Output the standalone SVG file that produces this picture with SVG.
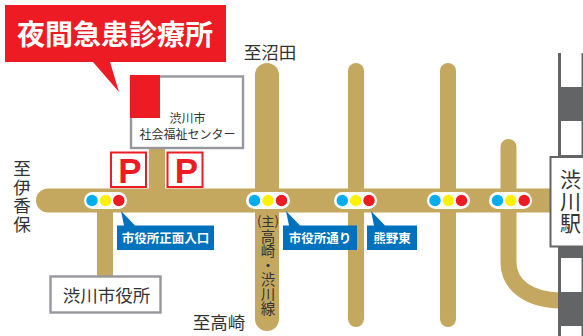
<svg xmlns="http://www.w3.org/2000/svg" width="583" height="336" viewBox="0 0 583 336">
<style>
text{font-family:"Noto Sans CJK JP","Noto Sans",sans-serif;fill:#333;text-anchor:middle}
.road{fill:none;stroke:#c5a85f;stroke-linecap:round}
.butt{stroke-linecap:butt}
.pill{fill:#fff}
.b{fill:#00aeef}.y{fill:#fff100}.r{fill:#ed1c24}
.blue{fill:#0071bc}
.bt{fill:#fff;font-size:12.500px;font-weight:700}
.box{fill:#fff;stroke:#97979c;stroke-width:2.4}
.p{fill:#fff;stroke:#ed1c24;stroke-width:2}
.pt{fill:#ed1c24;font-family:"Liberation Sans",sans-serif;font-size:35px;font-weight:700}
.lbl{font-size:17.500px}
.v{writing-mode:vertical-rl;text-anchor:start}
</style>
<g id="connectors">
<path class="road" stroke-width="24" d="M48 200.500H552"/>
<path class="road" stroke-width="24" d="M267 75V319"/>
<path class="road" stroke-width="16" d="M356 71V319"/>
<path class="road" stroke-width="16" d="M448 71V319"/>
<path class="road" stroke-width="16" d="M508.500 147V262C508.500 286 530 300 560 300.500"/>
<path class="road butt" stroke-width="16" d="M105 205V278"/>
<path class="road butt" stroke-width="16" d="M157 145V195"/>
</g>
<g id="railway">
<rect x="558" y="53" width="25" height="283" fill="#636466"/>
<rect x="561" y="53" width="20.500" height="34" fill="#fff"/>
<rect x="561" y="121" width="20.500" height="34" fill="#fff"/>
<rect x="561" y="258" width="20.500" height="34" fill="#fff"/>
<rect x="561" y="326" width="20.500" height="10" fill="#fff"/>
</g>
<g id="station">
<rect x="550.500" y="157" width="36" height="89.500" fill="#fff" stroke="#636466" stroke-width="2"/>
<text font-size="21"><tspan x="570.500" y="187">渋</tspan><tspan x="570.500" y="209">川</tspan><tspan x="570.500" y="231">駅</tspan></text>
</g>
<g id="callout">
<path class="r" d="M5 5H226V62H110L119 92L93 62H5Z"/>
<text x="115" y="45" font-size="28" font-weight="700" style="fill:#fff">夜間急患診療所</text>
</g>
<g id="center">
<rect class="box" x="131" y="76.500" width="112" height="71.500"/>
<rect class="r" x="130" y="75" width="30" height="43"/>
<text x="187.500" y="123" font-size="12">渋川市</text>
<text x="187.500" y="138.500" font-size="12">社会福祉センター</text>
</g>
<g id="parking1"><rect class="p" x="111" y="152.500" width="35" height="34.500"/><text class="pt" x="130" y="183">P</text></g>
<g id="parking2"><rect class="p" x="167.500" y="152.500" width="35" height="34.500"/><text class="pt" x="186.500" y="183">P</text></g>
<g id="signal1"><rect class="pill" x="84" y="192" width="43" height="17" rx="8.500"/><circle class="b" cx="92" cy="200.500" r="5.700"/><circle class="y" cx="105.500" cy="200.500" r="5.700"/><circle class="r" cx="118.800" cy="200.500" r="5.700"/></g>
<g id="signal2"><rect class="pill" x="246" y="192" width="44" height="17" rx="8.500"/><circle class="b" cx="254.500" cy="200.500" r="5.700"/><circle class="y" cx="268" cy="200.500" r="5.700"/><circle class="r" cx="281.500" cy="200.500" r="5.700"/></g>
<g id="signal3"><rect class="pill" x="334" y="192" width="43" height="17" rx="8.500"/><circle class="b" cx="342.300" cy="200.500" r="5.700"/><circle class="y" cx="355.700" cy="200.500" r="5.700"/><circle class="r" cx="369" cy="200.500" r="5.700"/></g>
<g id="signal4"><rect class="pill" x="427" y="192" width="43" height="17" rx="8.500"/><circle class="b" cx="435" cy="200.500" r="5.700"/><circle class="y" cx="448.300" cy="200.500" r="5.700"/><circle class="r" cx="461.500" cy="200.500" r="5.700"/></g>
<g id="signal5"><rect class="pill" x="489" y="192" width="43" height="17" rx="8.500"/><circle class="b" cx="497.500" cy="200.500" r="5.700"/><circle class="y" cx="510.800" cy="200.500" r="5.700"/><circle class="r" cx="524.200" cy="200.500" r="5.700"/></g>
<g id="tag1"><path class="blue" d="M117 225.500H135L121 211L124 225.500H214V250H117Z"/><text class="bt" x="165.500" y="243">市役所正面入口</text></g>
<g id="tag2"><path class="blue" d="M283 225.500H300L286 211L289 225.500H357V250H283Z"/><text class="bt" x="320" y="243">市役所通り</text></g>
<g id="tag3"><path class="blue" d="M367 225.500H385L371 211L374 225.500H417V250H367Z"/><text class="bt" x="392" y="243">熊野東</text></g>
<g id="cityhall"><rect class="box" x="50.500" y="276.500" width="110" height="36"/><text x="106.500" y="302" font-size="17.500">渋川市役所</text></g>
<g id="labels">
<text class="lbl" x="270" y="59">至沼田</text>
<text class="lbl" x="219" y="329">至高崎</text>
<text class="lbl v" x="22" y="160" letter-spacing="1">至伊香保</text>
<text x="268" y="226" font-size="13">(主)</text>
<text class="v" x="268" y="229" font-size="14.500">高崎・渋川線</text>
</g>
</svg>
